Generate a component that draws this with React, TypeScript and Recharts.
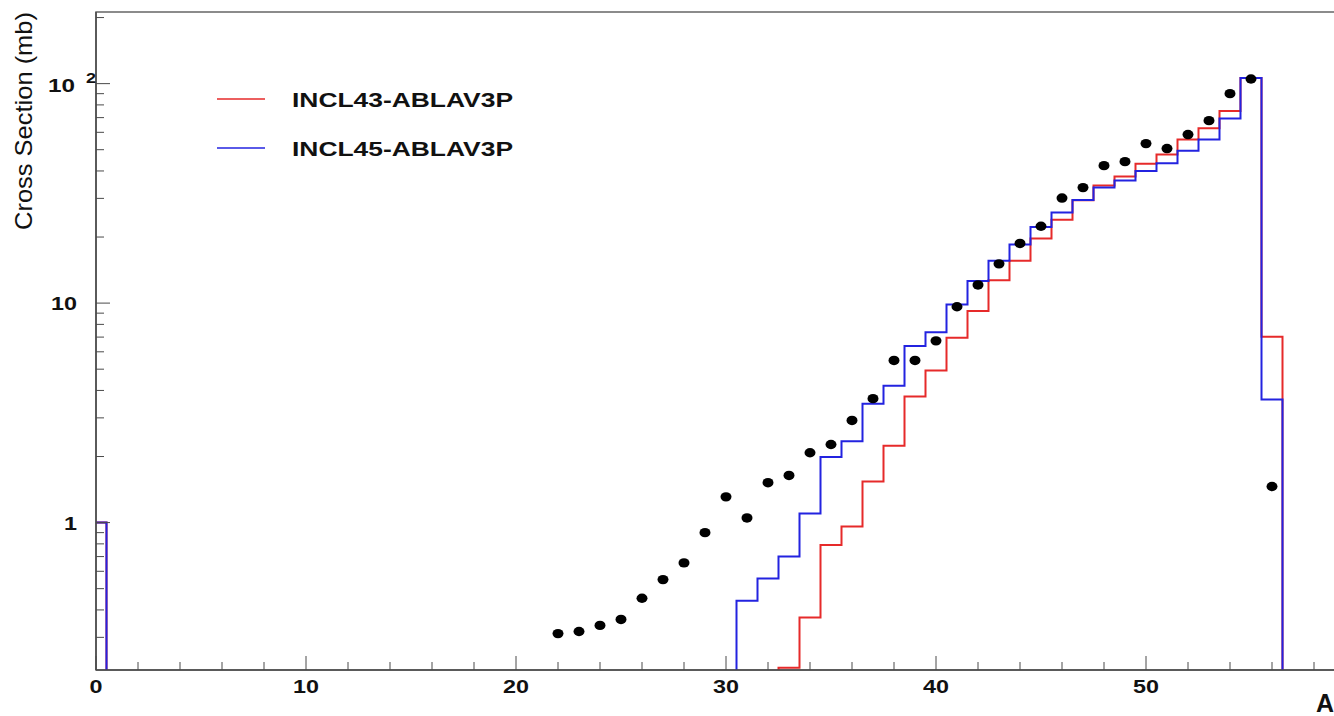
import {
  ComposedChart,
  Legend,
  Line,
  ReferenceArea,
  Scatter,
  XAxis,
  YAxis,
} from "recharts";

// mass number A of each histogram bin (bins are 1 wide, centred on A)
const BIN_A = Array.from({ length: 58 }, (_, i) => i);

// INCL43-ABLAV3P, cross section per bin (mb), A = 0..57
const INCL43 = [
  1,
  0, 0, 0, 0, 0, 0, 0, 0, 0, 0,
  0, 0, 0, 0, 0, 0, 0, 0, 0, 0,
  0, 0, 0, 0, 0, 0, 0, 0, 0, 0,
  0, 0,
  0.218, 0.369, 0.79, 0.96, 1.54, 2.24, 3.75,
  4.93, 6.96, 9.2, 12.7, 15.6, 19.7, 24.0, 29.4, 34.3, 37.7,
  43.2, 47.5, 55.6, 62.6, 75, 106, 7.03, 0,
];

// INCL45-ABLAV3P, A = 0..57
const INCL45 = [
  1,
  0, 0, 0, 0, 0, 0, 0, 0, 0, 0,
  0, 0, 0, 0, 0, 0, 0, 0, 0, 0,
  0, 0, 0, 0, 0, 0, 0, 0, 0, 0,
  0.441, 0.556, 0.7, 1.1, 1.99, 2.35, 3.48, 4.2, 6.37,
  7.37, 9.85, 12.6, 15.6, 18.5, 22.2, 25.9, 29.5, 33.6, 36.2,
  40, 43.4, 49.5, 55.6, 69.3, 106, 3.64, 0,
];

// measured points
const DATA_A = [
  22, 23, 24, 25, 26, 27, 28, 29, 30, 31, 32, 33, 34, 35, 36, 37, 38, 39,
  40, 41, 42, 43, 44, 45, 46, 47, 48, 49, 50, 51, 52, 53, 54, 55, 56,
];
const DATA_SIGMA = [
  0.312, 0.319, 0.34, 0.362, 0.452, 0.55, 0.655, 0.9, 1.31, 1.05, 1.52, 1.64,
  2.08, 2.27, 2.92, 3.67, 5.48, 5.48, 6.73, 9.62, 12.1, 15.1, 18.7, 22.4, 30.1,
  33.6, 42.3, 44.1, 53.3, 50.6, 58.6, 67.8, 90, 105, 1.46,
];

const X_TICKS = [
  0, 2, 4, 6, 8, 10, 12, 14, 16, 18, 20, 22, 24, 26, 28, 30, 32, 34, 36, 38,
  40, 42, 44, 46, 48, 50, 52, 54, 56, 58,
];
const X_LABELS = [0, 10, 20, 30, 40, 50];
const Y_TICKS = [
  0.3, 0.4, 0.5, 0.6, 0.7, 0.8, 0.9, 1, 2, 3, 4, 5, 6, 7, 8, 9, 10, 20, 30, 40,
  50, 60, 70, 80, 90, 100, 200,
];
const Y_LABELS = [1, 10, 100];

const X_MAX = 59;
const Y_MIN = 0.213;
const Y_MAX = 212;
// empty bins sit just under the frame so only their edges show
const FLOOR = Y_MIN * 0.97;

const RED = "#e62a2a";
const BLUE = "#2323e0";
const AXIS = "#4a4a4a";
const FONT = "'Liberation Sans', Arial, Helvetica, sans-serif";

const toSteps = (values: number[]) => {
  const pts = values.map((v, i) => ({ x: BIN_A[i] - 0.5, v: v > 0 ? v : FLOOR }));
  pts.push({ x: BIN_A[BIN_A.length - 1] + 0.5, v: pts[pts.length - 1].v });
  return pts;
};

const redSteps = toSteps(INCL43);
const blueSteps = toSteps(INCL45);
const points = DATA_A.map((a, i) => ({ x: a, v: DATA_SIGMA[i] }));

const XTick = ({ x, y, payload }: any) => {
  const v = payload.value;
  const major = X_LABELS.includes(v);
  return (
    <g>
      <line x1={x} x2={x} y1={y} y2={y - (major ? 14 : 8)} stroke={AXIS} />
      {major && (
        <text
          x={x}
          y={y + 23}
          textAnchor="middle"
          fontFamily={FONT}
          fontWeight="bold"
          fontSize={19}
          fill="#111"
          textLength={String(v).length * 13}
          lengthAdjust="spacingAndGlyphs"
        >
          {v}
        </text>
      )}
    </g>
  );
};

const YTick = ({ x, y, payload }: any) => {
  const v = payload.value;
  const major = Y_LABELS.includes(v);
  const common = {
    fontFamily: FONT,
    fontWeight: "bold",
    fill: "#111",
  };
  let label = null;
  if (v === 100) {
    label = (
      <g>
        <text {...common} x={x - 21} y={y + 8} fontSize={19} textAnchor="end"
          textLength={27} lengthAdjust="spacingAndGlyphs">
          10
        </text>
        <text {...common} x={x - 10} y={y - 1} fontSize={15}
          textLength={10} lengthAdjust="spacingAndGlyphs">
          2
        </text>
      </g>
    );
  } else if (major) {
    label = (
      <text {...common} x={x - 19} y={y + 7} fontSize={19} textAnchor="end"
        textLength={String(v).length * 13} lengthAdjust="spacingAndGlyphs">
        {v}
      </text>
    );
  }
  return (
    <g>
      <line x1={x} x2={x + (major ? 14 : 8)} y1={y} y2={y} stroke={AXIS} />
      {label}
    </g>
  );
};

const renderLegend = ({ payload }: any) => (
  <svg width={340} height={110} style={{ display: "block" }}>
    {(payload || []).map((entry: any, i: number) => (
      <g key={entry.value}>
        <line x1={17} x2={65} y1={29 + i * 49} y2={29 + i * 49} stroke={entry.color} strokeWidth={1.3} />
        <text
          x={92}
          y={29 + i * 49 + 7.5}
          fontFamily={FONT}
          fontWeight="bold"
          fontSize={20}
          fill="#111"
          textLength={221}
          lengthAdjust="spacingAndGlyphs"
        >
          {entry.value}
        </text>
      </g>
    ))}
  </svg>
);

const YTitle = (props: any) => {
  const vb = props.viewBox || { x: 95, y: 12, width: 1 };
  const x = vb.x + vb.width - 64;
  const y = vb.y;
  return (
    <text
      x={x}
      y={y}
      transform={`rotate(-90, ${x}, ${y})`}
      textAnchor="end"
      fontFamily={FONT}
      fontSize={24}
      fill="#111"
      textLength={218}
      lengthAdjust="spacingAndGlyphs"
    >
      Cross Section (mb)
    </text>
  );
};

const XTitle = (props: any) => {
  const vb = props.viewBox || { x: 96, y: 670, width: 1239 };
  return (
    <text
      x={vb.x + vb.width - 1}
      y={vb.y + 42}
      textAnchor="end"
      fontFamily={FONT}
      fontWeight="bold"
      fontSize={25}
      fill="#111"
    >
      A
    </text>
  );
};

export default function App() {
  return (
    <div
      style={{
        position: "absolute",
        left: 0,
        top: 0,
        width: 1334,
        height: 716,
        overflow: "hidden",
        background: "#fff",
      }}
    >
      <ComposedChart
        width={1345}
        height={716}
        margin={{ top: 12, right: 10, bottom: 45, left: 95 }}
      >
        <XAxis
          dataKey="x"
          type="number"
          domain={[0, X_MAX]}
          allowDataOverflow
          ticks={X_TICKS}
          interval={0}
          height={1}
          tickSize={0}
          tickMargin={0}
          tickLine={false}
          tick={(p: any) => <XTick {...p} />}
          axisLine={{ stroke: AXIS, strokeWidth: 1.5 }}
          label={(p: any) => <XTitle {...p} />}
        />
        <YAxis
          type="number"
          scale="log"
          domain={[Y_MIN, Y_MAX]}
          allowDataOverflow
          ticks={Y_TICKS}
          interval={0}
          width={1}
          tickSize={0}
          tickMargin={0}
          tickLine={false}
          tick={(p: any) => <YTick {...p} />}
          axisLine={{ stroke: AXIS, strokeWidth: 1.5 }}
          label={(p: any) => <YTitle {...p} />}
        />
        <ReferenceArea
          x1={0}
          x2={X_MAX}
          y1={Y_MIN}
          y2={Y_MAX}
          fill="none"
          stroke="#666"
          strokeWidth={1.5}
          ifOverflow="visible"
        />
        <Legend
          content={renderLegend}
          layout="vertical"
          align="center"
          verticalAlign="middle"
          wrapperStyle={{ position: "absolute", left: 200, top: 70, width: 340, height: 110 }}
        />
        <Line
          name="INCL43-ABLAV3P"
          data={redSteps}
          dataKey="v"
          type="stepAfter"
          stroke={RED}
          strokeWidth={2}
          dot={false}
          activeDot={false}
          isAnimationActive={false}
        />
        <Line
          name="INCL45-ABLAV3P"
          data={blueSteps}
          dataKey="v"
          type="stepAfter"
          stroke={BLUE}
          strokeWidth={2}
          dot={false}
          activeDot={false}
          isAnimationActive={false}
        />
        <Scatter
          name="data"
          data={points}
          dataKey="v"
          legendType="none"
          fill="#000"
          isAnimationActive={false}
          shape={(p: any) => <ellipse cx={p.cx} cy={p.cy} rx={5.5} ry={4.7} fill="#000" />}
        />
      </ComposedChart>
    </div>
  );
}
